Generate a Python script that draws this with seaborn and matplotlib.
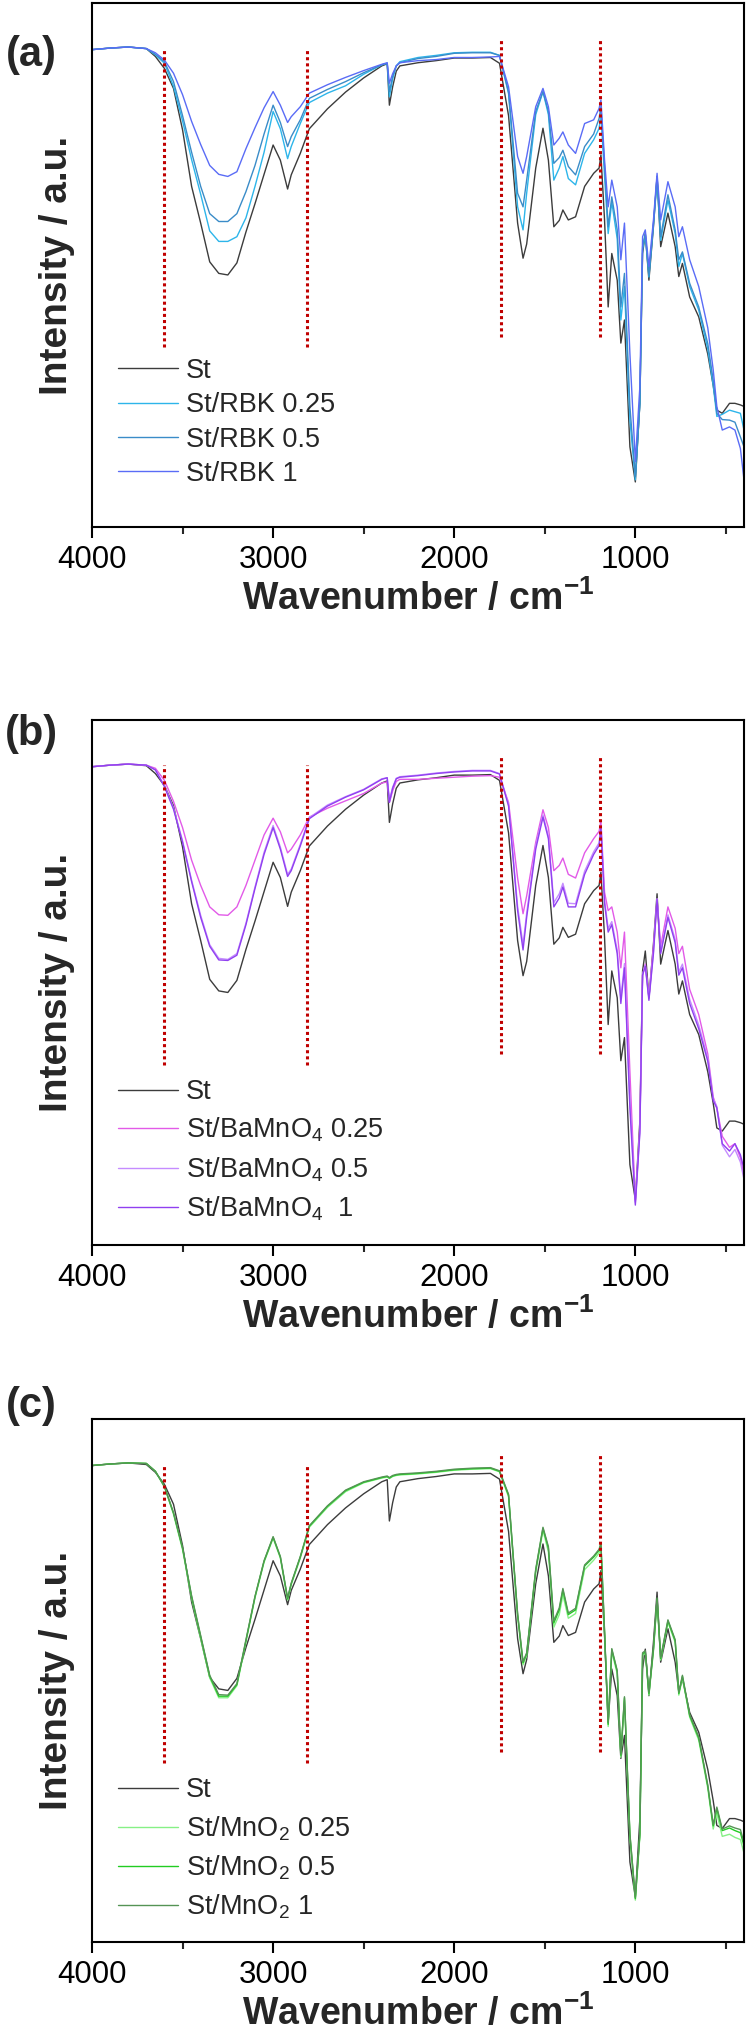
import numpy as np
import pandas as pd
import seaborn as sns
import matplotlib.pyplot as plt
from matplotlib.ticker import MultipleLocator

# FTIR spectra, intensity (0 = bottom of axes, 100 = top)
wavenumber = [4000, 3900, 3800, 3700, 3650, 3600, 3550, 3500, 3450, 3400,
              3350, 3300, 3250, 3200, 3150, 3100, 3050, 3000, 2960, 2920,
              2900, 2850, 2800, 2700, 2600, 2500, 2400, 2370, 2358, 2340,
              2320, 2300, 2200, 2100, 2000, 1900, 1800, 1750, 1700, 1650,
              1620, 1600, 1550, 1510, 1480, 1450, 1420, 1400, 1370, 1330,
              1280, 1230, 1200, 1190, 1170, 1150, 1130, 1100, 1080, 1060,
              1030, 1000, 975, 960, 945, 925, 900, 880, 860, 820,
              780, 760, 740, 700, 650, 600, 570, 550, 520, 480,
              450, 420, 400]

st = [91.1, 91.4, 91.6, 91.3, 89.8, 87.5, 83.7, 75.8, 65.0, 58.0,
      50.6, 48.4, 48.1, 50.4, 56.3, 61.7, 67.3, 72.9, 70.0, 64.5,
      67.2, 71.3, 76.0, 79.8, 83.0, 85.7, 88.0, 88.4, 80.5, 84.0,
      87.0, 88.0, 88.6, 89.0, 89.5, 89.5, 89.6, 88.5, 78.5, 58.0,
      51.3, 54.0, 68.5, 76.1, 70.0, 57.3, 58.5, 60.5, 58.6, 59.2,
      65.0, 67.5, 68.5, 71.0, 58.6, 42.0, 52.2, 47.1, 35.1, 39.5,
      15.3, 8.6, 23.6, 52.2, 56.0, 47.1, 57.3, 66.9, 53.5, 59.9,
      53.5, 47.8, 50.3, 43.9, 40.1, 33.0, 27.0, 22.3, 21.7, 23.6,
      23.6, 23.3, 23.0]

rbk_025 = [91.1, 91.4, 91.6, 91.3, 90.1, 88.5, 84.1, 77.5, 70.1, 63.5,
           56.5, 54.5, 54.5, 55.4, 59.0, 65.0, 71.5, 79.3, 76.0, 70.3,
           72.6, 77.0, 81.0, 82.8, 84.2, 86.4, 88.2, 88.5, 82.1, 85.5,
           88.0, 88.8, 89.6, 90.0, 90.5, 90.6, 90.6, 90.0, 82.7, 61.1,
           56.7, 63.7, 78.7, 83.1, 78.7, 66.2, 68.5, 70.7, 66.5, 65.3,
           71.3, 73.9, 76.1, 78.7, 66.9, 56.0, 62.0, 55.0, 39.5, 45.9,
           20.4, 9.0, 23.6, 53.0, 55.7, 47.7, 57.6, 66.2, 54.7, 62.4,
           56.0, 49.7, 52.2, 45.9, 41.4, 34.0, 27.0, 21.1, 21.5, 22.3,
           22.0, 21.7, 18.5]

rbk_05 = [91.1, 91.4, 91.6, 91.3, 90.2, 88.8, 85.0, 78.5, 71.5, 65.0,
          59.8, 58.3, 58.3, 59.8, 64.0, 69.0, 75.0, 80.5, 77.2, 72.6,
          74.5, 77.7, 81.8, 83.5, 85.0, 86.7, 88.2, 88.5, 83.1, 86.0,
          88.0, 88.6, 89.4, 89.8, 90.4, 90.5, 90.5, 90.0, 83.0, 63.7,
          61.1, 66.2, 79.3, 83.1, 79.3, 69.4, 70.5, 71.9, 68.8, 67.2,
          72.6, 75.0, 78.0, 80.2, 68.8, 57.3, 63.0, 56.7, 42.0, 48.4,
          23.0, 9.6, 23.6, 53.5, 56.0, 48.0, 57.9, 66.9, 55.4, 63.4,
          56.7, 51.0, 52.5, 46.5, 42.0, 35.0, 28.0, 21.7, 20.5, 20.4,
          20.0, 17.2, 15.3]

rbk_1 = [91.1, 91.4, 91.6, 91.3, 90.5, 89.1, 86.6, 82.5, 77.4, 73.0,
         69.0, 67.3, 66.9, 67.8, 72.2, 76.2, 80.0, 83.1, 80.5, 77.2,
         78.3, 80.2, 82.8, 84.4, 85.8, 87.1, 88.3, 88.6, 84.7, 86.5,
         88.0, 88.6, 89.0, 89.2, 89.6, 89.6, 89.7, 89.8, 84.0, 70.7,
         67.5, 70.7, 80.2, 83.7, 80.2, 72.9, 74.2, 75.4, 72.9, 71.3,
         77.0, 77.7, 79.9, 81.5, 70.0, 61.1, 66.2, 61.1, 51.0, 58.0,
         33.1, 12.5, 26.8, 55.4, 56.7, 49.7, 58.6, 67.5, 58.6, 65.9,
         61.1, 55.4, 57.3, 51.0, 45.9, 38.0, 30.0, 23.0, 18.5, 19.1,
         18.5, 15.0, 9.0]

bamno4_025 = [91.1, 91.4, 91.6, 91.4, 90.8, 88.5, 84.5, 79.5, 73.3, 68.5,
              64.4, 62.9, 62.8, 64.4, 68.5, 73.3, 78.1, 81.3, 78.7, 74.7,
              75.4, 78.1, 81.5, 83.2, 84.6, 86.0, 88.0, 88.2, 84.3, 86.5,
              88.3, 88.7, 88.7, 88.9, 89.1, 89.3, 89.4, 89.1, 84.3, 69.9,
              63.1, 66.5, 76.7, 82.9, 79.5, 71.3, 72.3, 73.7, 70.6, 69.9,
              74.7, 77.4, 78.8, 80.8, 67.2, 63.7, 64.4, 59.6, 52.8, 59.6,
              33.0, 8.3, 22.6, 51.4, 53.5, 47.3, 56.9, 65.8, 56.9, 64.4,
              60.3, 55.5, 56.9, 48.7, 43.9, 36.4, 28.2, 26.1, 20.7, 18.6,
              19.3, 16.6, 13.1]

bamno4_05 = [91.1, 91.4, 91.6, 91.4, 90.5, 87.5, 83.3, 77.0, 69.5, 62.8,
             57.2, 54.6, 54.4, 55.5, 61.3, 68.2, 74.8, 79.9, 75.8, 70.6,
             71.6, 76.3, 81.4, 83.8, 85.4, 86.8, 88.8, 89.0, 84.8, 87.2,
             88.9, 89.2, 89.5, 89.9, 90.2, 90.4, 90.4, 89.8, 83.9, 64.5,
             57.2, 63.2, 76.0, 81.9, 77.9, 65.2, 66.9, 68.9, 65.1, 65.0,
             71.2, 74.9, 76.6, 79.9, 65.7, 60.3, 61.6, 56.2, 47.0, 53.6,
             27.5, 8.0, 21.8, 51.6, 53.3, 46.9, 55.9, 66.0, 55.9, 62.9,
             58.2, 52.0, 53.5, 46.8, 41.9, 35.6, 27.9, 26.4, 19.0, 16.8,
             18.2, 15.8, 12.5]

bamno4_1 = [91.1, 91.4, 91.6, 91.4, 90.5, 87.3, 83.0, 76.7, 69.2, 62.4,
            56.9, 54.3, 54.2, 55.2, 61.0, 67.9, 74.4, 79.5, 75.4, 70.2,
            71.3, 76.0, 81.2, 83.6, 85.3, 86.7, 88.7, 89.0, 84.3, 87.0,
            88.8, 89.1, 89.4, 89.8, 90.1, 90.3, 90.3, 89.7, 83.6, 63.7,
            56.2, 62.4, 75.4, 81.5, 77.4, 64.4, 66.1, 68.2, 64.4, 64.4,
            70.6, 74.4, 76.1, 79.5, 65.1, 59.6, 61.0, 55.5, 46.0, 52.8,
            26.1, 7.6, 21.3, 51.4, 53.1, 46.6, 55.5, 65.8, 55.5, 62.4,
            57.6, 51.4, 52.8, 46.0, 41.2, 35.0, 27.5, 26.1, 19.3, 17.9,
            19.3, 17.2, 14.5]

mno2_025 = [91.1, 91.4, 91.6, 91.5, 90.0, 87.0, 81.8, 75.0, 65.7, 58.1,
            50.5, 46.7, 46.7, 49.0, 57.4, 65.8, 72.6, 77.2, 73.4, 65.4,
            68.3, 73.4, 79.3, 83.1, 86.1, 87.8, 88.7, 88.9, 88.6, 89.0,
            89.2, 89.3, 89.5, 89.8, 90.2, 90.4, 90.5, 89.9, 85.1, 62.2,
            53.0, 54.8, 70.6, 78.7, 74.6, 60.2, 62.6, 66.4, 61.9, 62.8,
            71.2, 73.0, 74.4, 75.7, 58.9, 41.2, 55.5, 51.3, 35.3, 46.3,
            20.0, 8.0, 20.2, 54.8, 55.2, 47.2, 55.6, 65.3, 53.9, 61.1,
            57.3, 47.2, 50.5, 43.0, 38.6, 29.4, 21.6, 24.6, 20.2, 20.6,
            20.0, 19.6, 17.0]

mno2_05 = [91.1, 91.4, 91.6, 91.5, 90.0, 87.1, 82.0, 75.3, 66.0, 58.4,
           50.8, 47.0, 47.0, 49.2, 57.6, 66.0, 72.8, 77.4, 73.6, 65.6,
           68.5, 73.6, 79.5, 83.3, 86.3, 87.9, 88.8, 89.0, 88.7, 89.1,
           89.3, 89.4, 89.6, 89.9, 90.3, 90.5, 90.6, 90.0, 85.4, 62.6,
           53.4, 55.1, 71.1, 79.1, 75.3, 61.0, 63.5, 67.3, 62.6, 63.5,
           71.9, 73.6, 74.9, 76.1, 59.3, 41.6, 55.9, 51.7, 35.7, 46.7,
           20.5, 8.3, 20.5, 55.1, 55.5, 47.5, 55.9, 65.6, 54.2, 61.4,
           57.6, 47.5, 50.8, 43.3, 39.0, 29.8, 22.2, 25.5, 21.3, 21.8,
           21.3, 20.9, 18.4]

mno2_1 = [91.1, 91.4, 91.6, 91.5, 90.0, 87.1, 82.1, 75.4, 66.2, 58.6,
          51.0, 47.3, 47.2, 49.4, 57.8, 66.1, 72.9, 77.5, 73.7, 65.8,
          68.6, 73.7, 79.6, 83.4, 86.4, 88.0, 88.9, 89.1, 88.8, 89.2,
          89.4, 89.5, 89.7, 90.0, 90.4, 90.6, 90.7, 90.1, 85.6, 62.8,
          53.6, 55.3, 71.3, 79.3, 75.6, 61.4, 63.9, 67.6, 62.9, 63.8,
          72.1, 73.8, 75.1, 76.3, 59.5, 41.9, 56.1, 51.9, 35.9, 46.9,
          20.7, 8.5, 20.7, 55.3, 55.7, 47.7, 56.1, 65.8, 54.4, 61.6,
          57.8, 47.7, 51.0, 43.5, 39.2, 30.0, 22.4, 25.8, 21.6, 22.2,
          21.8, 21.5, 19.0]

# red dotted guide lines
guide_wn_oh = [3600, 2815]
guide_wn_co = [1740, 1193]

sns.set_style("ticks")
plt.rcParams['font.family'] = ['Liberation Sans', 'DejaVu Sans']
plt.rcParams['mathtext.fontset'] = 'custom'
plt.rcParams['mathtext.rm'] = 'Liberation Sans'
plt.rcParams['mathtext.it'] = 'Liberation Sans:italic'
plt.rcParams['mathtext.bf'] = 'Liberation Sans:bold'

panels = [
    ('(a)', [('St', st, '#3c3c3c'),
             ('St/RBK 0.25', rbk_025, '#2db5ea'),
             ('St/RBK 0.5', rbk_05, '#3a8cc8'),
             ('St/RBK 1', rbk_1, '#5a6cf6')]),
    ('(b)', [('St', st, '#3c3c3c'),
             ('St/BaMnO$_4$ 0.25', bamno4_025, '#e25ae8'),
             ('St/BaMnO$_4$ 0.5', bamno4_05, '#c58cff'),
             ('St/BaMnO$_4$  1', bamno4_1, '#9040f0')]),
    ('(c)', [('St', st, '#3c3c3c'),
             ('St/MnO$_2$ 0.25', mno2_025, '#86f086'),
             ('St/MnO$_2$ 0.5', mno2_05, '#22cc22'),
             ('St/MnO$_2$ 1', mno2_1, '#559455')]),
]

# axes boxes in pixels (top, bottom) of the 750x2038 figure
W, H = 750, 2038
boxes = [(3, 527), (720, 1245), (1419, 1942)]
tag_y = [55, 734, 1406]
leg_top = [0.323, 0.316, 0.315]
leg_space = [0.31, 0.4, 0.4]

fig = plt.figure(figsize=(W / 100, H / 100), dpi=100)

for i, (tag, series) in enumerate(panels):
    top, bottom = boxes[i]
    ax = fig.add_axes([92 / W, 1 - bottom / H, 652 / W, (bottom - top) / H])
    for name, vals, color in series:
        df = pd.DataFrame({'Wavenumber': wavenumber, 'Intensity': vals})
        sns.lineplot(data=df, x='Wavenumber', y='Intensity', color=color,
                     lw=1.0, label=name, ax=ax)

    ax.vlines(guide_wn_oh, 34.3, 91.4, colors='#c00000', lw=2.2,
              linestyles=(0, (1, 1.0)), zorder=3)
    ax.vlines(guide_wn_co, 36.3, 93.4, colors='#c00000', lw=2.2,
              linestyles=(0, (1, 1.0)), zorder=3)

    ax.set_xlim(4000, 400)
    ax.set_ylim(0, 100)
    ax.set_yticks([])
    ax.xaxis.set_major_locator(MultipleLocator(1000))
    ax.xaxis.set_minor_locator(MultipleLocator(500))
    ax.tick_params(axis='x', which='major', length=8, width=1.5,
                   labelsize=22.5, pad=5, colors='black')
    ax.tick_params(axis='x', which='minor', length=5, width=1.5)
    for sp in ax.spines.values():
        sp.set_color('black')
        sp.set_linewidth(1.5)

    ax.set_xlabel(r'Wavenumber / cm$^{\mathbf{-1}}$', fontsize=27,
                  fontweight='bold', labelpad=3)
    ax.set_ylabel('Intensity / a.u.', fontsize=28, fontweight='bold',
                  labelpad=12)

    ax.legend(loc='upper left', bbox_to_anchor=(0.04, leg_top[i]),
              frameon=False, fontsize=19.5, handlelength=2.2,
              handletextpad=0.31, labelspacing=leg_space[i],
              borderpad=0, borderaxespad=0)

    fig.text(31 / W, 1 - tag_y[i] / H, tag, fontsize=30, fontweight='bold',
             ha='center', va='center')

fig.savefig('out.png', dpi=100)
